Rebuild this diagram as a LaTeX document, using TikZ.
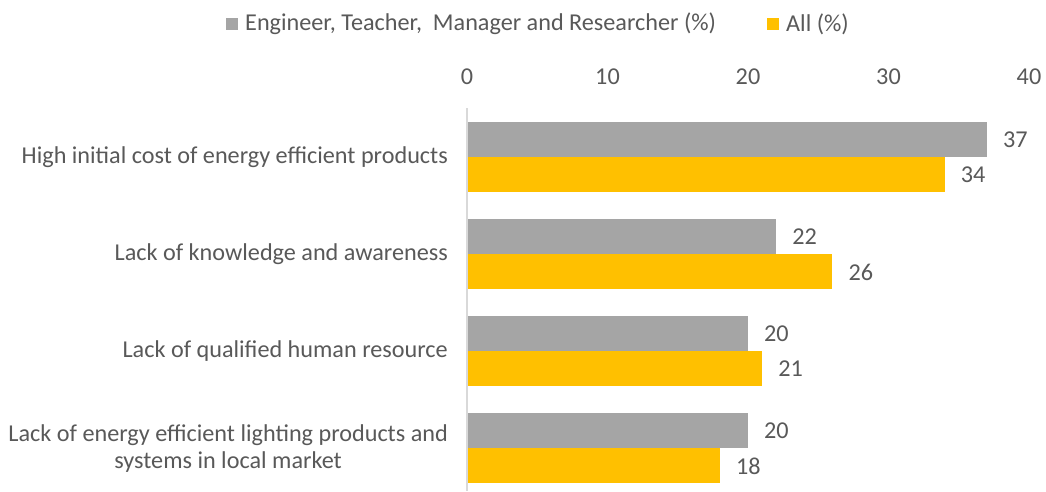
\documentclass[tikz,border=0pt]{standalone}
\usepackage{fontspec}
\setmainfont{Carlito}
\definecolor{txtC}{HTML}{595959}
\definecolor{barG}{HTML}{A5A5A5}
\definecolor{barY}{HTML}{FFC000}
\definecolor{axisC}{HTML}{D9D9D9}
\begin{document}
\begin{tikzpicture}[x=1pt,y=-1pt,
  lbl/.style={font=\fontsize{24.2}{27}\selectfont, text=txtC, inner sep=0pt},
  cat/.style={lbl, anchor=east, align=right},
  val/.style={lbl, anchor=west},
  tick/.style={lbl, anchor=center},
  gb/.style={fill=barG, draw=none},
  yb/.style={fill=barY, draw=none}]
\useasboundingbox (0,0) rectangle (1046,491);
\fill[white] (0,0) rectangle (1046,491);
% legend
\fill[barG] (226,18) rectangle (238,30);
\node[lbl, anchor=west] (leg1) at (245,24) {Engineer, Teacher,\ \ Manager and Researcher (\%)};
\fill[barY] (767,18) rectangle (779,30);
\node[lbl, anchor=west] (leg2) at (786,24) {All (\%)};
% ticks
\foreach \v in {0,10,20,30,40} {
  \node[tick] (t\v) at ({467+14.05*\v},77) {\v};
}
% axis
\draw[axisC, line width=1.2pt] (467,108) -- (467,491);
% bars
\foreach \i/\g/\yv in {0/37/34, 1/22/26, 2/20/21, 3/20/18} {
  \pgfmathsetmacro{\yt}{122+97*\i}
  \fill[gb] (468,\yt) rectangle ({467+14.05*\g},\yt+35);
  \fill[yb] (468,\yt+35) rectangle ({467+14.05*\yv},\yt+70);
  \node[val] (vg\i) at ({467+14.05*\g+16},\yt+18) {\g};
  \node[val] (vy\i) at ({467+14.05*\yv+16},\yt+53) {\yv};
}
% categories
\node[cat] (c0) at (448,157) {High initial cost of energy efficient products};
\node[cat] (c1) at (448,254) {Lack of knowledge and awareness};
\node[cat] (c2) at (448,351) {Lack of qualified human resource};
\node[cat, align=center] (c3) at (448,449) {Lack of energy efficient lighting products and\\systems in local market};
\end{tikzpicture}
\end{document}
